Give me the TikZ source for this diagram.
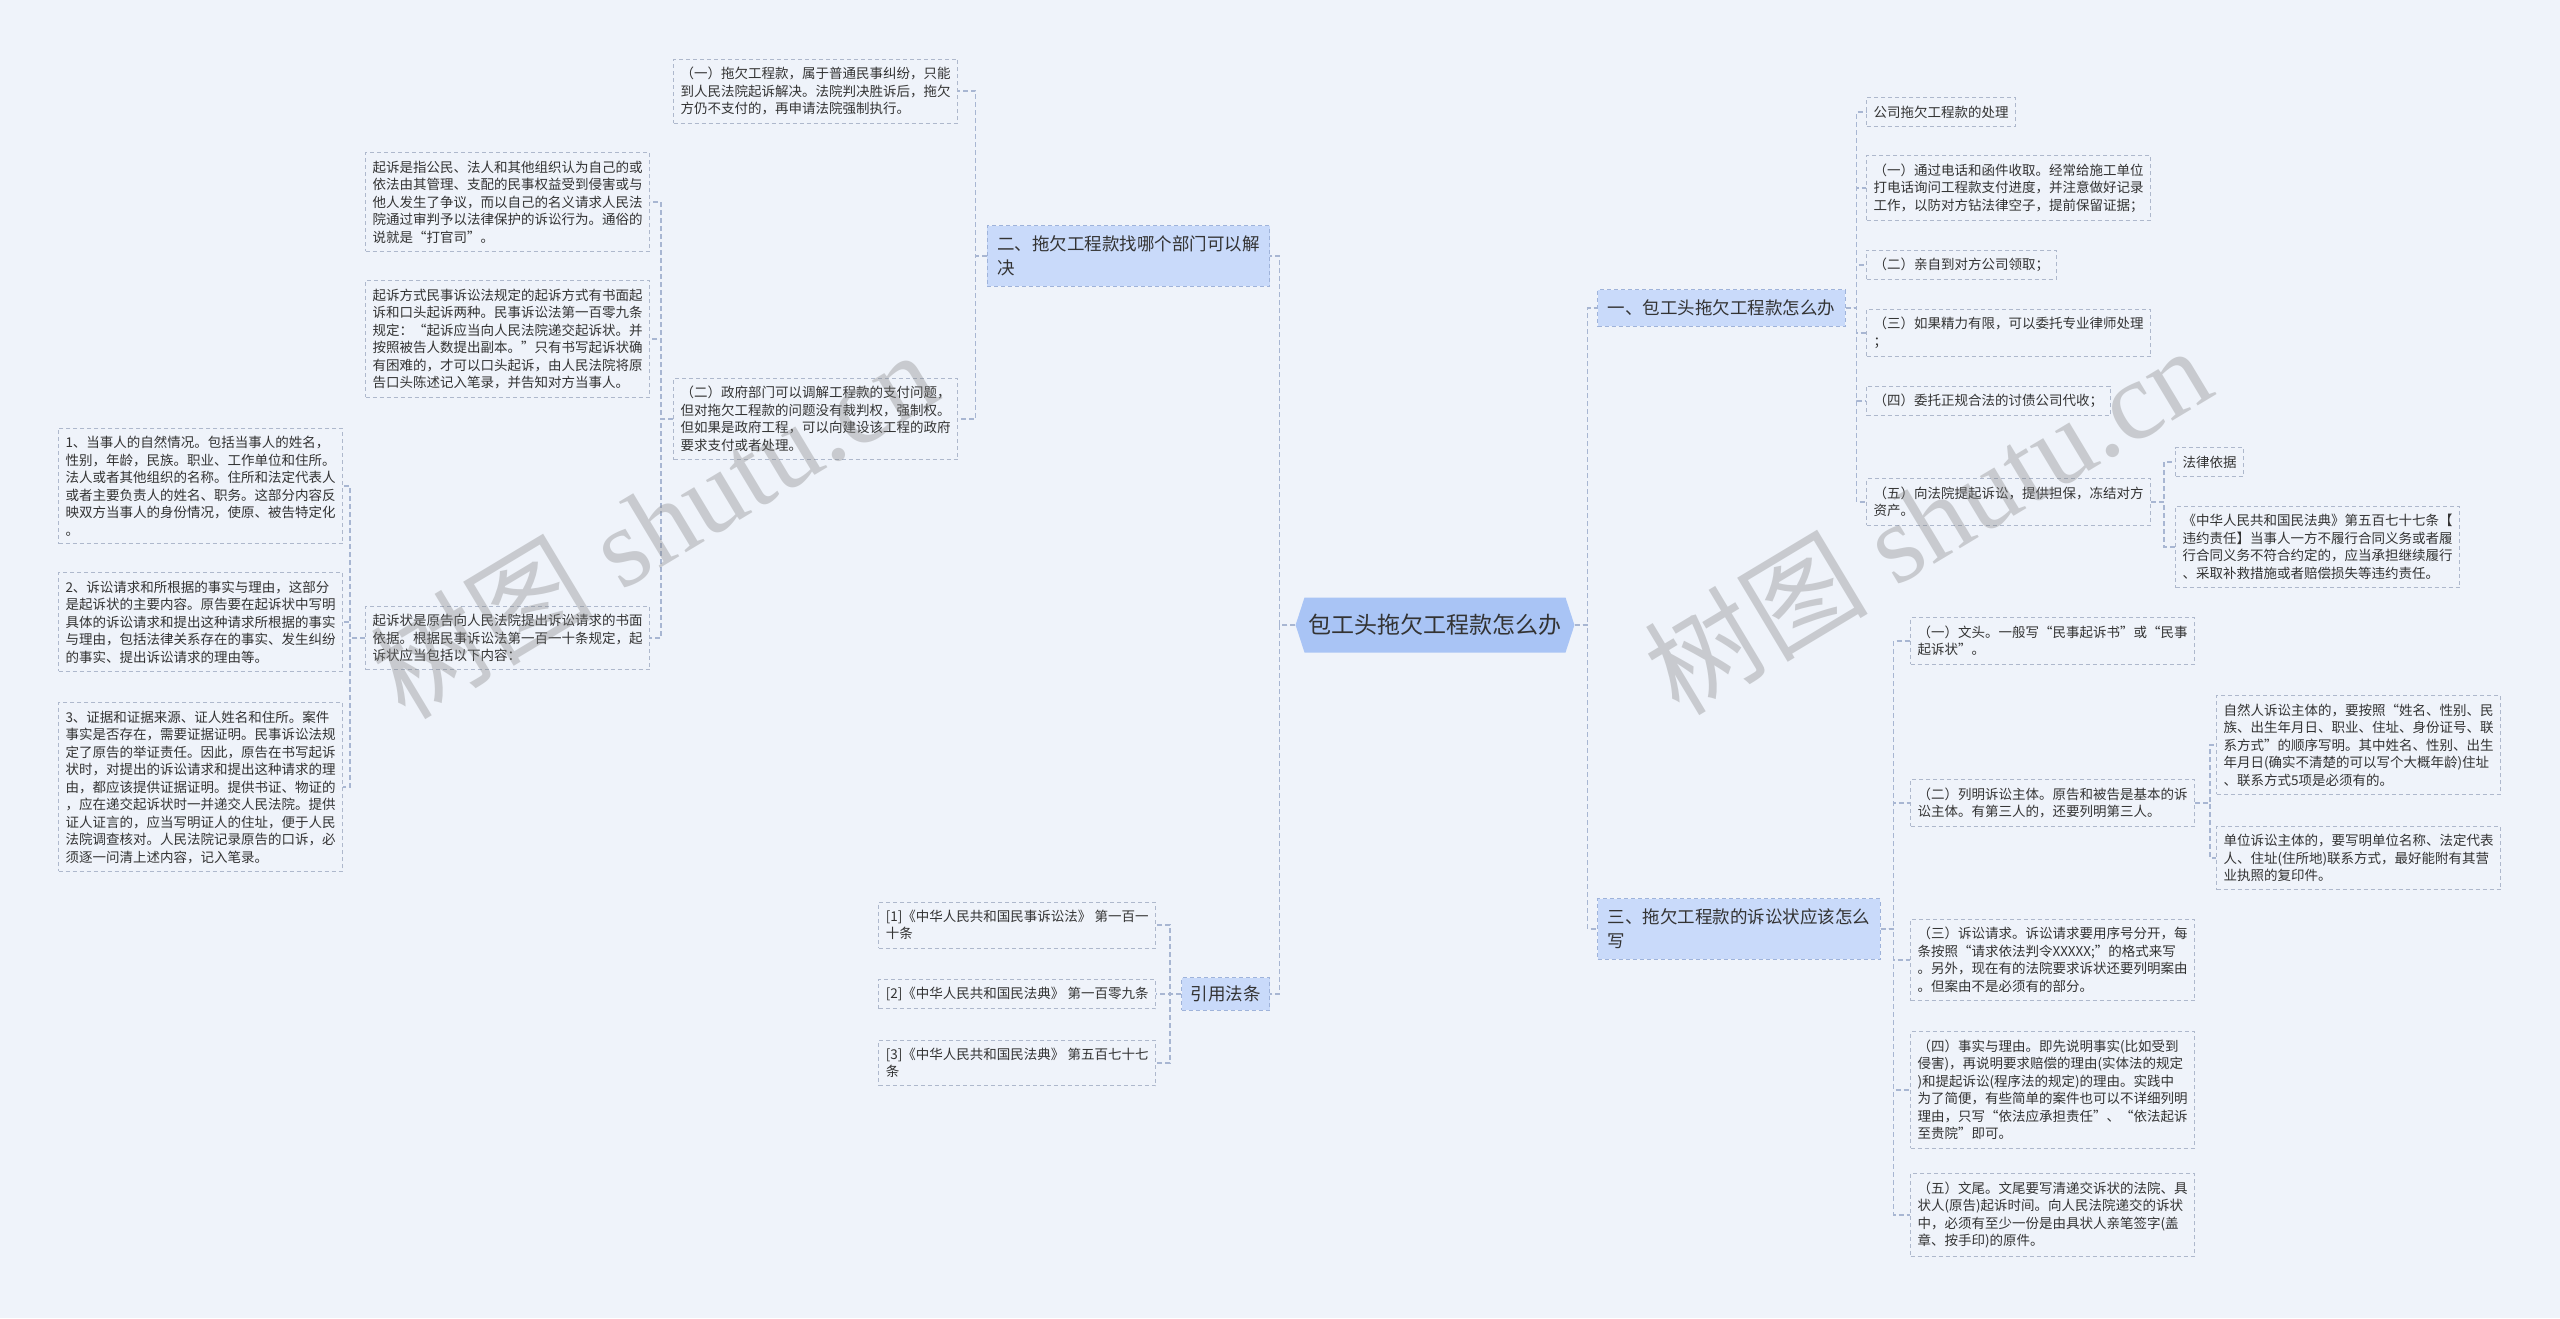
\documentclass[tikz,border=0pt]{standalone}
\usepackage{fontspec}
\newfontfamily\cjk{Noto Sans CJK SC}
\newfontfamily\wmfont{Liberation Serif}
\usetikzlibrary{positioning,shapes.symbols}
\definecolor{bgc}{HTML}{EFF3FA}
\definecolor{boxc}{HTML}{AEB8CC}
\definecolor{linkc}{HTML}{A8B6D2}
\definecolor{topicc}{HTML}{C9DAFA}
\definecolor{topicb}{HTML}{9FB3DA}
\definecolor{rootc}{HTML}{A9C4F5}
\definecolor{txt}{HTML}{333333}
\tikzset{
  leaf/.style={draw=boxc, dash pattern=on 4pt off 3pt, line width=1pt, text=txt,
    align=left, inner xsep=7pt, inner ysep=8pt, font=\cjk\fontsize{13.5}{17.5}\selectfont},
  topic/.style={draw=topicb, fill=topicc, dash pattern=on 4pt off 3pt, line width=1pt,
    text=txt, align=left, inner xsep=10pt, inner ysep=10pt, font=\cjk\fontsize{17.5}{24}\selectfont},
  root/.style={signal, signal to=east and west, signal pointer angle=144, fill=rootc,
    text=txt, minimum width=273pt, minimum height=55pt, inner xsep=4pt,
    font=\cjk\fontsize{23}{28}\selectfont},
  link/.style={draw=linkc, dash pattern=on 5pt off 3pt, line width=1.2pt},
  wm/.style={text=gray, opacity=0.35, font=\fontsize{112}{120}\selectfont}
}
\begin{document}
\begin{tikzpicture}[x=1pt,y=-1pt]
\fill[bgc] (0,0) rectangle (2560,1318);
\useasboundingbox (0,0) rectangle (2560,1318);
%root
\node[root] (root) at (1435,625) {包工头拖欠工程款怎么办};
%left: 二
\node[topic, anchor=east] (b2) at (1270,256) {二、拖欠工程款找哪个部门可以解\\决};
\node[leaf, anchor=east] (b2a) at (958,91) {（一）拖欠工程款，属于普通民事纠纷，只能\\到人民法院起诉解决。法院判决胜诉后，拖欠\\方仍不支付的，再申请法院强制执行。};
\node[leaf, anchor=east] (b2b) at (958,419) {（二）政府部门可以调解工程款的支付问题，\\但对拖欠工程款的问题没有裁判权，强制权。\\但如果是政府工程，可以向建设该工程的政府\\要求支付或者处理。};
\node[leaf, anchor=east] (c1) at (650,202) {起诉是指公民、法人和其他组织认为自己的或\\依法由其管理、支配的民事权益受到侵害或与\\他人发生了争议，而以自己的名义请求人民法\\院通过审判予以法律保护的诉讼行为。通俗的\\说就是“打官司”。};
\node[leaf, anchor=east] (c2) at (650,339) {起诉方式民事诉讼法规定的起诉方式有书面起\\诉和口头起诉两种。民事诉讼法第一百零九条\\规定：“起诉应当向人民法院递交起诉状。并\\按照被告人数提出副本。”只有书写起诉状确\\有困难的，才可以口头起诉，由人民法院将原\\告口头陈述记入笔录，并告知对方当事人。};
\node[leaf, anchor=east] (c3) at (650,638) {起诉状是原告向人民法院提出诉讼请求的书面\\依据。根据民事诉讼法第一百一十条规定，起\\诉状应当包括以下内容：};
\node[leaf, anchor=east] (d1) at (343,486) {1、当事人的自然情况。包括当事人的姓名，\\性别，年龄，民族。职业、工作单位和住所。\\法人或者其他组织的名称。住所和法定代表人\\或者主要负责人的姓名、职务。这部分内容反\\映双方当事人的身份情况，使原、被告特定化\\。};
\node[leaf, anchor=east] (d2) at (343,622) {2、诉讼请求和所根据的事实与理由，这部分\\是起诉状的主要内容。原告要在起诉状中写明\\具体的诉讼请求和提出这种请求所根据的事实\\与理由，包括法律关系存在的事实、发生纠纷\\的事实、提出诉讼请求的理由等。};
\node[leaf, anchor=east] (d3) at (343,787) {3、证据和证据来源、证人姓名和住所。案件\\事实是否存在，需要证据证明。民事诉讼法规\\定了原告的举证责任。因此，原告在书写起诉\\状时，对提出的诉讼请求和提出这种请求的理\\由，都应该提供证据证明。提供书证、物证的\\，应在递交起诉状时一并递交人民法院。提供\\证人证言的，应当写明证人的住址，便于人民\\法院调查核对。人民法院记录原告的口诉，必\\须逐一问清上述内容，记入笔录。};
%left: 引用法条
\node[topic, anchor=east, inner ysep=8pt, inner xsep=9pt] (law) at (1270,994) {引用法条};
\node[leaf, anchor=east] (law1) at (1156,925) {[1]《中华人民共和国民事诉讼法》 第一百一\\十条};
\node[leaf, anchor=east] (law2) at (1156,994) {[2]《中华人民共和国民法典》 第一百零九条};
\node[leaf, anchor=east] (law3) at (1156,1063) {[3]《中华人民共和国民法典》 第五百七十七\\条};
%right: 一
\node[topic, anchor=west] (a1) at (1597,308) {一、包工头拖欠工程款怎么办};
\node[leaf, anchor=west] (r1) at (1866,112) {公司拖欠工程款的处理};
\node[leaf, anchor=west] (r2) at (1866,188) {（一）通过电话和函件收取。经常给施工单位\\打电话询问工程款支付进度，并注意做好记录\\工作，以防对方钻法律空子，提前保留证据；};
\node[leaf, anchor=west] (r3) at (1866,265) {（二）亲自到对方公司领取；};
\node[leaf, anchor=west] (r4) at (1866,333) {（三）如果精力有限，可以委托专业律师处理\\；};
\node[leaf, anchor=west] (r5) at (1866,401) {（四）委托正规合法的讨债公司代收；};
\node[leaf, anchor=west] (r6) at (1866,502) {（五）向法院提起诉讼，提供担保，冻结对方\\资产。};
\node[leaf, anchor=west] (r6a) at (2175,462) {法律依据};
\node[leaf, anchor=west] (r6b) at (2175,547) {《中华人民共和国民法典》第五百七十七条【\\违约责任】当事人一方不履行合同义务或者履\\行合同义务不符合约定的，应当承担继续履行\\、采取补救措施或者赔偿损失等违约责任。};
%right: 三
\node[topic, anchor=west] (a3) at (1597,929) {三、拖欠工程款的诉讼状应该怎么\\写};
\node[leaf, anchor=west] (s1) at (1910,641) {（一）文头。一般写“民事起诉书”或“民事\\起诉状”。};
\node[leaf, anchor=west] (s2) at (1910,803) {（二）列明诉讼主体。原告和被告是基本的诉\\讼主体。有第三人的，还要列明第三人。};
\node[leaf, anchor=west] (s2a) at (2216,745) {自然人诉讼主体的，要按照“姓名、性别、民\\族、出生年月日、职业、住址、身份证号、联\\系方式”的顺序写明。其中姓名、性别、出生\\年月日(确实不清楚的可以写个大概年龄)住址\\、联系方式5项是必须有的。};
\node[leaf, anchor=west] (s2b) at (2216,858) {单位诉讼主体的，要写明单位名称、法定代表\\人、住址(住所地)联系方式，最好能附有其营\\业执照的复印件。};
\node[leaf, anchor=west] (s3) at (1910,960) {（三）诉讼请求。诉讼请求要用序号分开，每\\条按照“请求依法判令XXXXX;”的格式来写\\。另外，现在有的法院要求诉状还要列明案由\\。但案由不是必须有的部分。};
\node[leaf, anchor=west] (s4) at (1910,1090) {（四）事实与理由。即先说明事实(比如受到\\侵害)，再说明要求赔偿的理由(实体法的规定\\)和提起诉讼(程序法的规定)的理由。实践中\\为了简便，有些简单的案件也可以不详细列明\\理由，只写“依法应承担责任”、“依法起诉\\至贵院”即可。};
\node[leaf, anchor=west] (s5) at (1910,1215) {（五）文尾。文尾要写清递交诉状的法院、具\\状人(原告)起诉时间。向人民法院递交的诉状\\中，必须有至少一份是由具状人亲笔签字(盖\\章、按手印)的原件。};
%connectors
\foreach \c in {b2,law} \draw[link] (root.west) -- ++(-16,0) |- (\c.east);
\foreach \c in {a1,a3} \draw[link] (root.east) -- ++(13,0) |- (\c.west);
\foreach \c in {b2a,b2b} \draw[link] (b2.west) -- ++(-11,0) |- (\c.east);
\foreach \c in {c1,c2,c3} \draw[link] (b2b.west) -- ++(-12,0) |- (\c.east);
\foreach \c in {d1,d2,d3} \draw[link] (c3.west) -- ++(-15,0) |- (\c.east);
\foreach \c in {law1,law2,law3} \draw[link] (law.west) -- ++(-11,0) |- (\c.east);
\foreach \c in {r1,r2,r3,r4,r5,r6} \draw[link] (a1.east) -- ++(11,0) |- (\c.west);
\foreach \c in {r6a,r6b} \draw[link] (r6.east) -- ++(13,0) |- (\c.west);
\foreach \c in {s1,s2,s3,s4,s5} \draw[link] (a3.east) -- ++(13,0) |- (\c.west);
\foreach \c in {s2a,s2b} \draw[link] (s2.east) -- ++(15,0) |- (\c.west);
%watermarks
\node[wm, rotate=31] (wm1) at (653,523) {{\cjk 树图}\wmfont\ shutu.cn};
\node[wm, rotate=31] (wm2) at (1927,519) {{\cjk 树图}\wmfont\ shutu.cn};
\end{tikzpicture}
\end{document}
